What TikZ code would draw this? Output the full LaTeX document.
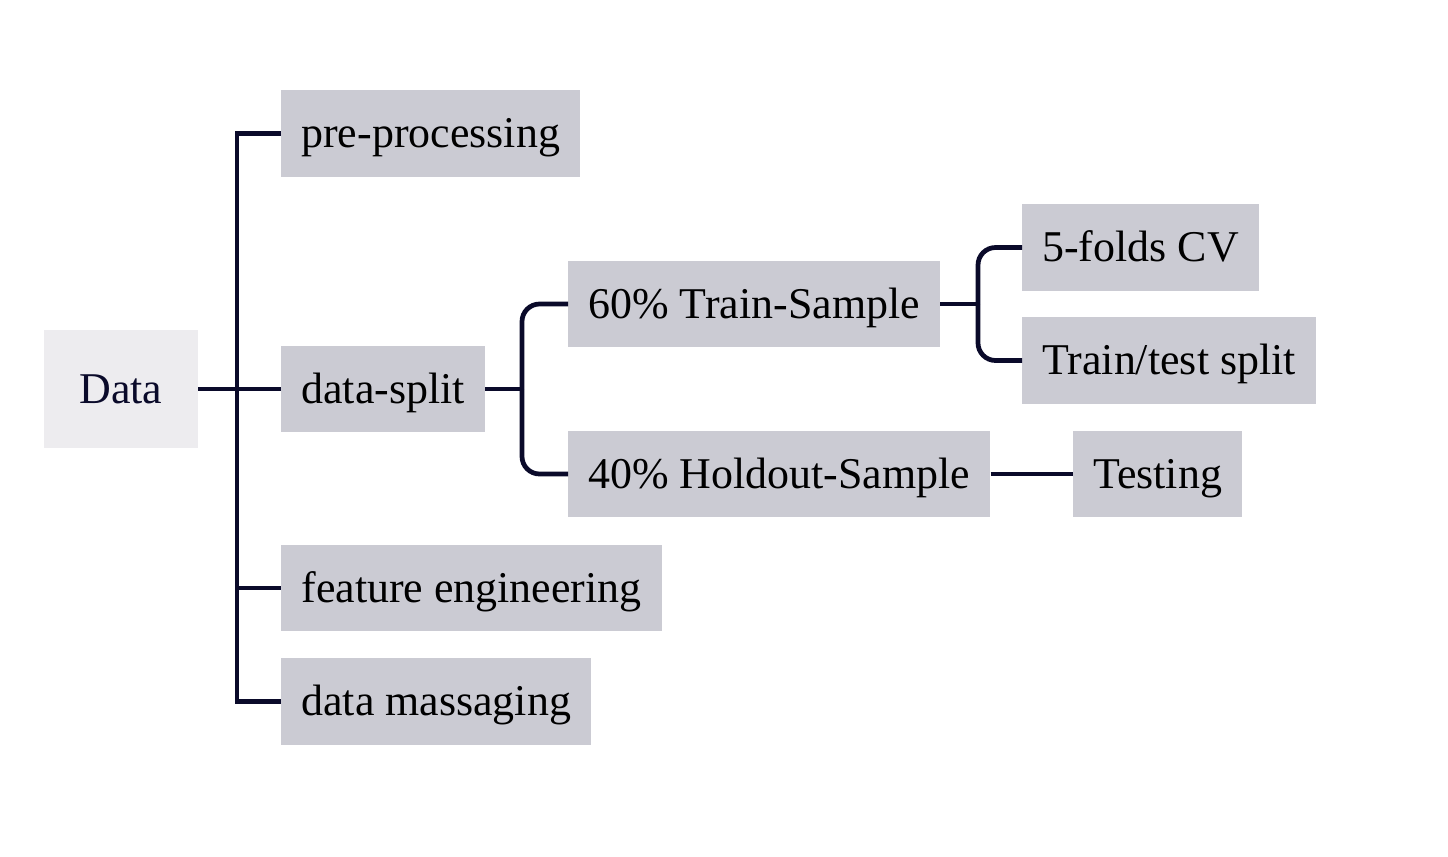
\documentclass[tikz,border=0pt]{standalone}
\usepackage{fontspec}
\setmainfont{Liberation Serif}
\definecolor{boxgray}{HTML}{CBCBD3}
\definecolor{rootgray}{HTML}{EDECEF}
\definecolor{linknavy}{HTML}{0A0A2A}
\begin{document}
\begin{tikzpicture}[x=0.02cm, y=-0.02cm,
  leaf/.style={fill=boxgray, anchor=west, minimum height=49.3pt, inner xsep=11.4pt, text height=18pt, text depth=2pt, font=\fontsize{25}{30}\selectfont},
  link/.style={draw=linknavy, line width=2.7pt}]
\useasboundingbox (0,0) rectangle (1448,856);

\node[fill=rootgray, minimum width=87.3pt, minimum height=67.5pt, text height=18pt, text depth=2pt, text=linknavy, font=\fontsize{25}{30}\selectfont] (data) at (121,389) {Data};

\node[leaf] (pre) at (281,133.5) {pre-processing};
\node[leaf] (split) at (281,389) {data-split};
\node[leaf] (feat) at (281,588) {feature engineering};
\node[leaf] (mass) at (281,701.5) {data massaging};

\node[leaf] (train) at (568,304) {60\% Train-Sample};
\node[leaf] (hold) at (568,474) {40\% Holdout-Sample};

\node[leaf] (cv) at (1022,247.5) {5-folds CV};
\node[leaf] (tts) at (1022,360.5) {Train/test split};
\node[leaf] (test) at (1073,474) {Testing};

% first level
\coordinate (j1) at (237,389);
\draw[link] (data.east) -- (j1) -- (split.west);
\draw[link] (j1) |- (pre.west);
\draw[link] (j1) |- (feat.west);
\draw[link] (j1) |- (mass.west);

% split into samples
\coordinate (j2) at (522,389);
\draw[link] (split.east) -- (j2);
\draw[link, rounded corners=10pt] (j2) |- (train.west);
\draw[link, rounded corners=10pt] (j2) |- (hold.west);

% train sample
\coordinate (j3) at (978,304);
\draw[link] (train.east) -- (j3);
\draw[link, rounded corners=10pt] (j3) |- (cv.west);
\draw[link, rounded corners=10pt] (j3) |- (tts.west);

\draw[link] (hold.east) -- (test.west);
\end{tikzpicture}
\end{document}
